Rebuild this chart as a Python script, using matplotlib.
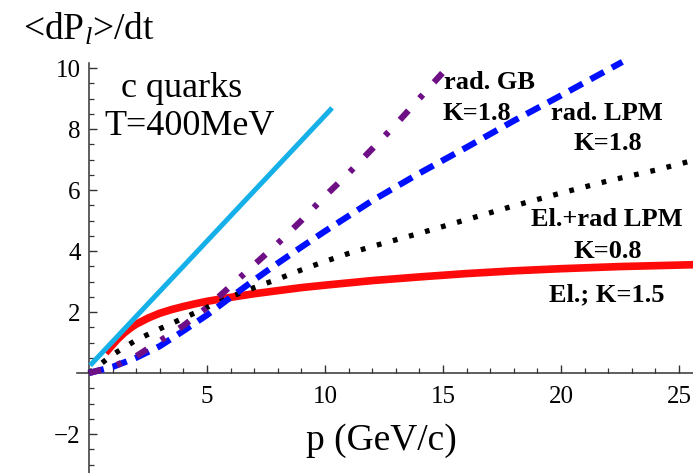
import matplotlib
matplotlib.use('Agg')
import matplotlib.pyplot as plt
from matplotlib.ticker import FixedLocator

plt.rcParams['font.family'] = ['Liberation Serif', 'DejaVu Serif']
plt.rcParams['mathtext.fontset'] = 'custom'
plt.rcParams['mathtext.rm'] = 'Liberation Serif'
plt.rcParams['mathtext.it'] = 'Liberation Serif:italic'
plt.rcParams['lines.scale_dashes'] = False

# ---- data ----
p_cyan = [0.05, 10.3]
v_cyan = [0.25, 8.69]

p_red = [0.7, 0.9, 1.2, 1.5, 1.8, 2.0, 2.5, 3.0, 3.5, 4.0, 4.5, 5.0, 6.0, 7.0, 8.0, 9.0, 10.0,
         12.0, 14.0, 16.0, 18.0, 20.0, 22.5, 25.6]
v_red = [0.66, 0.84, 1.1, 1.32, 1.5, 1.6, 1.8, 1.96, 2.08, 2.18, 2.27, 2.35, 2.48, 2.6, 2.7, 2.8, 2.88,
         3.03, 3.15, 3.26, 3.35, 3.42, 3.49, 3.55]

p_black = [0, 1, 2, 3, 4, 5, 6, 7, 8, 9, 10, 11, 12, 14, 16, 18, 20, 22, 24, 25.6]
v_black = [0, 0.6, 1.08, 1.45, 1.8, 2.15, 2.5, 2.8, 3.08, 3.38, 3.66, 3.92, 4.15, 4.58, 5.03, 5.48, 5.9, 6.3, 6.65, 6.97]

p_blue = [0, 1, 2, 3, 4, 5, 6, 7, 8, 9, 10, 11, 12, 13, 14, 16, 18, 20, 22.6]
v_blue = [0, 0.2, 0.5, 0.88, 1.38, 1.9, 2.48, 3.05, 3.6, 4.13, 4.65, 5.15, 5.65, 6.1, 6.55, 7.4, 8.27, 9.1, 10.2]

p_purple = [0, 1, 2, 3, 4, 5, 6, 7, 8, 9, 10, 11, 12, 13, 14, 15.4]
v_purple = [0, 0.2, 0.55, 1.05, 1.55, 2.15, 2.85, 3.55, 4.25, 5.0, 5.8, 6.55, 7.35, 8.15, 9.0, 10.2]

x_major = [5, 10, 15, 20, 25]
x_minor = [k for k in range(1, 26) if k % 5 != 0]
y_major = [-2, 2, 4, 6, 8, 10]
y_minor = [k * 0.5 for k in range(-6, 21) if (k * 0.5) % 2 != 0]

# ---- figure ----
fig = plt.figure(figsize=(6.93, 4.73), dpi=100)
ax = fig.add_axes([0, 0, 1, 1])
ax.set_xlim(-89 / 23.6, 604 / 23.6)
ax.set_ylim(-100 / 30.5, 373 / 30.5)

ax.plot(p_red, v_red, color='#ff0a0a', lw=5.5, solid_capstyle='butt', solid_joinstyle='round', zorder=3)
ax.plot(p_black, v_black, color='black', lw=3.8, dashes=(3.4, 8.6), dash_capstyle='butt', zorder=4)
ax.plot(p_blue, v_blue, color='#0010ff', lw=4.5, dashes=(11, 6.5), dash_capstyle='butt', zorder=5)
ax.plot(p_purple, v_purple, color='#6e0f86', lw=4.5, dashes=(9, 12, 3.5, 12), dash_capstyle='butt', zorder=6)
ax.plot(p_cyan, v_cyan, color='#16b0e8', lw=3.6, solid_capstyle='butt', zorder=7)

# axes through origin
for s in ['top', 'right']:
    ax.spines[s].set_visible(False)
ax.spines['left'].set_position(('data', 0))
ax.spines['bottom'].set_position(('data', 0))
ax.spines['left'].set_bounds(-3.3, 10.17)
ax.spines['bottom'].set_bounds(-0.5, 25.6)
for s in ['left', 'bottom']:
    ax.spines[s].set_color('#333333')
    ax.spines[s].set_linewidth(1.1)

ax.xaxis.set_major_locator(FixedLocator(x_major))
ax.xaxis.set_minor_locator(FixedLocator(x_minor))
ax.yaxis.set_major_locator(FixedLocator(y_major))
ax.yaxis.set_minor_locator(FixedLocator(y_minor))
ax.set_xticklabels([str(v) for v in x_major], fontfamily='Liberation Serif')
ax.set_yticklabels([str(v).replace('-', '\u2212') for v in y_major], fontfamily='Liberation Serif')
ax.tick_params(axis='both', which='major', direction='in', length=6, width=1.0, color='#333333', labelsize=18)
ax.tick_params(axis='both', which='minor', direction='in', length=3.5, width=0.9, color='#333333')
ax.tick_params(axis='x', which='major', pad=9)
ax.tick_params(axis='y', which='major', pad=6)

# texts
ax.text(3.94, 9.34, 'c quarks', fontsize=26, ha='center', va='center')
ax.text(4.24, 8.07, 'T=400MeV', fontsize=26, ha='center', va='center')
ax.text(0.0, 11.25, r'<dP$_{\mathit{l}}$>/dt', fontsize=27, ha='center', va='center')
ax.text(12.4, -2.22, 'p (GeV/c)', fontsize=27, ha='center', va='center')

bold = dict(fontsize=19, fontweight='bold', ha='center', va='center')
ax.text(16.95, 9.51, 'rad. GB', **bold)
ax.text(16.44, 8.52, 'K=1.8', **bold)
ax.text(21.95, 8.52, 'rad. LPM', **bold)
ax.text(22.0, 7.54, 'K=1.8', **bold)
ax.text(21.95, 5.02, 'El.+rad LPM', **bold)
ax.text(22.0, 3.97, 'K=0.8', **bold)
ax.text(21.95, 2.56, 'El.; K=1.5', **bold)

fig.savefig('out.png', dpi=100)
